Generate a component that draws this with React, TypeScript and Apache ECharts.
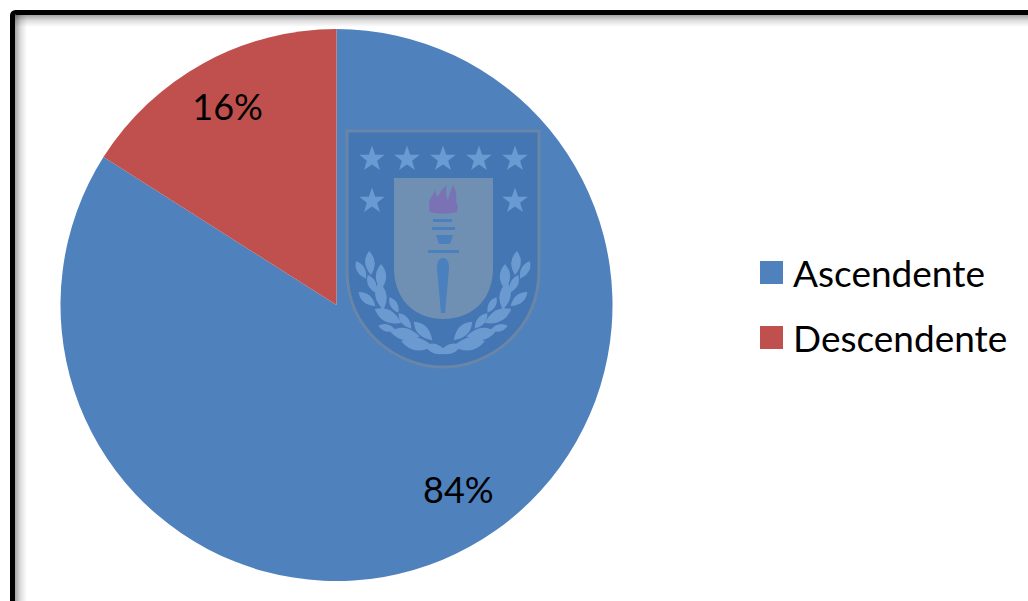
import React, { useEffect, useRef } from "react";
import * as echarts from "echarts";

// Share of trajectories by direction, in percent
const categories = ["Ascendente", "Descendente"];
const shares = [84, 16];
const sliceColors = ["#4F81BD", "#C0504D"];
const labelNudges = [
  [54, 60],
  [-41, -75],
];

const FONT = "Lato, 'Open Sans', sans-serif";

// University crest outlines
const SHIELD = "M347 131H539V270C539 330 490 367 443 367C396 367 347 330 347 270Z";
const FIELD = "M394 178H493V268C493 300 472 319 443 319C415 319 394 300 394 268Z";
const FLAME =
  "M429 204C429 198 433 196 435 190C436 194 437 196 438 197C440 192 443 188 447 185C445 192 446 196 448 200C449 196 451 190 453 185C456 190 457 196 456 202C458 204 458 208 457 212C447 214 438 214 430 212C429 210 429 207 429 204Z";
const CUP = "M436 235H453L450 244H439Z";
const HANDLE = "M443 258C447 258 449 262 449 268L445 313H441L437 268C437 262 439 258 443 258Z";
const LEAF = "M0 -1Q0.8 -0.1 0 1Q-0.8 -0.1 0 -1Z";
const STAR =
  "M0 -1L0.235 -0.324L0.951 -0.309L0.38 0.124L0.588 0.809L0 0.4L-0.588 0.809L-0.38 0.124L-0.951 -0.309L-0.235 -0.324Z";

const STAR_SPOTS = [
  [372, 159],
  [407, 159],
  [443, 159],
  [479, 159],
  [515, 159],
  [372, 201],
  [515, 201],
];

// Left half of the laurel as [x, y, tilt in degrees, half length]; the right half mirrors it
const LAUREL = [
  [370, 263, 5, 12],
  [361, 270, 30, 10],
  [381, 277, 0, 13],
  [372, 284, 25, 10],
  [367, 299, 50, 11],
  [381, 296, 10, 14],
  [394, 305, 30, 9],
  [388, 316, 62, 15],
  [387, 328, 75, 9],
  [405, 321, 40, 10],
  [405, 334, 80, 15],
  [423, 331, 45, 13],
  [417, 344, 80, 16],
  [436, 349, 70, 12],
];
const CREST_AXIS = 443;

const STAR_LIGHT = "#6A9AD2";
const LEAF_LIGHT = "#6A9AD0";

function crestElements() {
  echarts.graphic.registerShape("crestShield", echarts.graphic.extendPath(SHIELD, {}));
  echarts.graphic.registerShape("crestField", echarts.graphic.extendPath(FIELD, {}));
  echarts.graphic.registerShape("crestFlame", echarts.graphic.extendPath(FLAME, {}));
  echarts.graphic.registerShape("crestCup", echarts.graphic.extendPath(CUP, {}));
  echarts.graphic.registerShape("crestHandle", echarts.graphic.extendPath(HANDLE, {}));
  echarts.graphic.registerShape("crestLeaf", echarts.graphic.extendPath(LEAF, {}));
  echarts.graphic.registerShape("crestStar", echarts.graphic.extendPath(STAR, {}));

  const items: any[] = [
    {
      type: "crestShield",
      z: 5,
      style: { fill: "#4376B3", stroke: "#6985A8", lineWidth: 3 },
    },
    { type: "crestField", z: 6, style: { fill: "#6F8FB3" } },
    { type: "crestFlame", z: 7, style: { fill: "#7A72B5" } },
    { type: "crestCup", z: 7, style: { fill: "#4A80BE" } },
    { type: "crestHandle", z: 7, style: { fill: "#4A80BE" } },
    { type: "rect", z: 7, shape: { x: 433, y: 219, width: 19, height: 3 }, style: { fill: "#4A80BE" } },
    { type: "rect", z: 7, shape: { x: 432, y: 227, width: 23, height: 3 }, style: { fill: "#4A80BE" } },
    { type: "rect", z: 7, shape: { x: 428, y: 250, width: 31, height: 3 }, style: { fill: "#4A80BE" } },
  ];
  STAR_SPOTS.forEach(([x, y]) => {
    items.push({
      type: "crestStar",
      z: 7,
      x,
      y,
      scaleX: 13.5,
      scaleY: 13.5,
      style: { fill: STAR_LIGHT },
    });
  });
  LAUREL.forEach(([x, y, tilt, size]) => {
    const rad = (tilt * Math.PI) / 180;
    [
      [x, rad],
      [2 * CREST_AXIS - x, -rad],
    ].forEach(([px, rotation]) => {
      items.push({
        type: "crestLeaf",
        z: 7,
        x: px,
        y,
        rotation,
        scaleX: size,
        scaleY: size,
        style: { fill: LEAF_LIGHT },
      });
    });
  });
  return items;
}

// Black frame with a soft shadow falling inwards from its top and left sides
function frameElements() {
  const fade = (x2: number, y2: number) => ({
    type: "linear",
    x: 0,
    y: 0,
    x2,
    y2,
    colorStops: [
      { offset: 0, color: "rgba(0,0,0,0.36)" },
      { offset: 0.5, color: "rgba(0,0,0,0.12)" },
      { offset: 1, color: "rgba(0,0,0,0)" },
    ],
  });
  return [
    {
      type: "rect",
      z: 0,
      shape: { x: 15, y: 15, width: 1100, height: 12 },
      style: { fill: fade(0, 1) },
    },
    {
      type: "rect",
      z: 0,
      shape: { x: 15, y: 15, width: 12, height: 700 },
      style: { fill: fade(1, 0) },
    },
    {
      type: "rect",
      z: 1,
      shape: { x: 12.5, y: 12.5, width: 1100, height: 700, r: 3 },
      style: { fill: "none", stroke: "#000000", lineWidth: 5 },
    },
  ];
}

export default function App() {
  const ref = useRef<HTMLDivElement>(null);

  useEffect(() => {
    const chart = echarts.init(ref.current!, undefined, { renderer: "svg" });
    chart.setOption({
      animation: false,
      backgroundColor: "#FFFFFF",
      legend: {
        orient: "vertical",
        left: 760,
        top: 254,
        padding: 0,
        itemWidth: 23,
        itemHeight: 23,
        itemGap: 28,
        icon: "rect",
        selectedMode: false,
        data: categories,
        textStyle: {
          fontFamily: FONT,
          fontSize: 37,
          color: "#000000",
          padding: [0, 0, 0, 5],
        },
      },
      graphic: { elements: [...frameElements(), ...crestElements()] },
      series: [
        {
          type: "pie",
          center: [336.5, 305],
          radius: [0, 276],
          startAngle: 90,
          clockwise: true,
          silent: true,
          z: 2,
          label: {
            show: true,
            position: "inside",
            formatter: "{d}%",
            fontFamily: FONT,
            fontSize: 36,
            color: "#000000",
          },
          labelLine: { show: false },
          labelLayout: (params: any) => ({
            dx: labelNudges[params.dataIndex][0],
            dy: labelNudges[params.dataIndex][1],
          }),
          data: categories.map((name, i) => ({
            name,
            value: shares[i],
            itemStyle: { color: sliceColors[i] },
          })),
        },
      ],
    });
    return () => chart.dispose();
  }, []);

  return (
    <div
      ref={ref}
      style={{ position: "fixed", left: 0, top: 0, width: 1028, height: 601, overflow: "hidden" }}
    />
  );
}
